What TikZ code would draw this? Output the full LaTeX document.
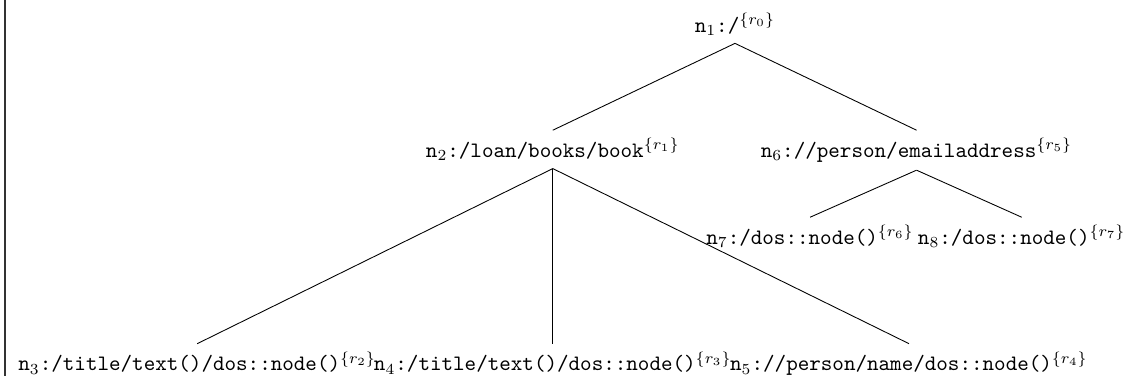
\documentclass[tikz,border=0pt]{standalone}
\usepackage{amsmath}
\usepackage{xcolor}
\usepackage{tikz}
\usetikzlibrary{positioning}
\definecolor{framegray}{HTML}{333333}
\newcommand{\qnode}[3]{\texttt{n}$_{#1}$\texttt{#2}${}^{\{r_{#3}\}}$}

\begin{document}
\begin{tikzpicture}[
    qn/.style={anchor=north, inner sep=3.33pt},
    branch/.style={black, line width=0.4pt},
    frame/.style={framegray, line width=0.9pt},
]
\useasboundingbox (0,0) rectangle (18.05,-6.10);

% left frame rule
\coordinate (ftop) at (0.08, 0);
\coordinate (fbot) at (0.08, -6.00);
\draw[frame] (ftop) -- (fbot);

% root
\node[qn] (n1) at (11.74, -0.08) {\qnode{1}{:/}{0}};

% second level
\node[qn] (n2) at (8.83, -2.08) {\qnode{2}{:/loan/books/book}{1}};
\node[qn] (n6) at (14.64, -2.08) {\qnode{6}{://person/emailaddress}{5}};

% children of n6
\node[qn] (n7) at (12.94, -3.47) {\qnode{7}{:/dos::node()}{6}};
\node[qn] (n8) at (16.32, -3.47) {\qnode{8}{:/dos::node()}{7}};

% children of n2
\node[qn] (n3) at (3.15, -5.49) {\qnode{3}{:/title/text()/dos::node()}{2}};
\node[qn] (n4) at (8.83, -5.49) {\qnode{4}{:/title/text()/dos::node()}{3}};
\node[qn] (n5) at (14.52, -5.49) {\qnode{5}{://person/name/dos::node()}{4}};

\draw[branch] (n1.south) -- (n2.north);
\draw[branch] (n1.south) -- (n6.north);
\draw[branch] (n2.south) -- (n3.north);
\draw[branch] (n2.south) -- (n4.north);
\draw[branch] (n2.south) -- (n5.north);
\draw[branch] (n6.south) -- (n7.north);
\draw[branch] (n6.south) -- (n8.north);

\end{tikzpicture}
\end{document}
